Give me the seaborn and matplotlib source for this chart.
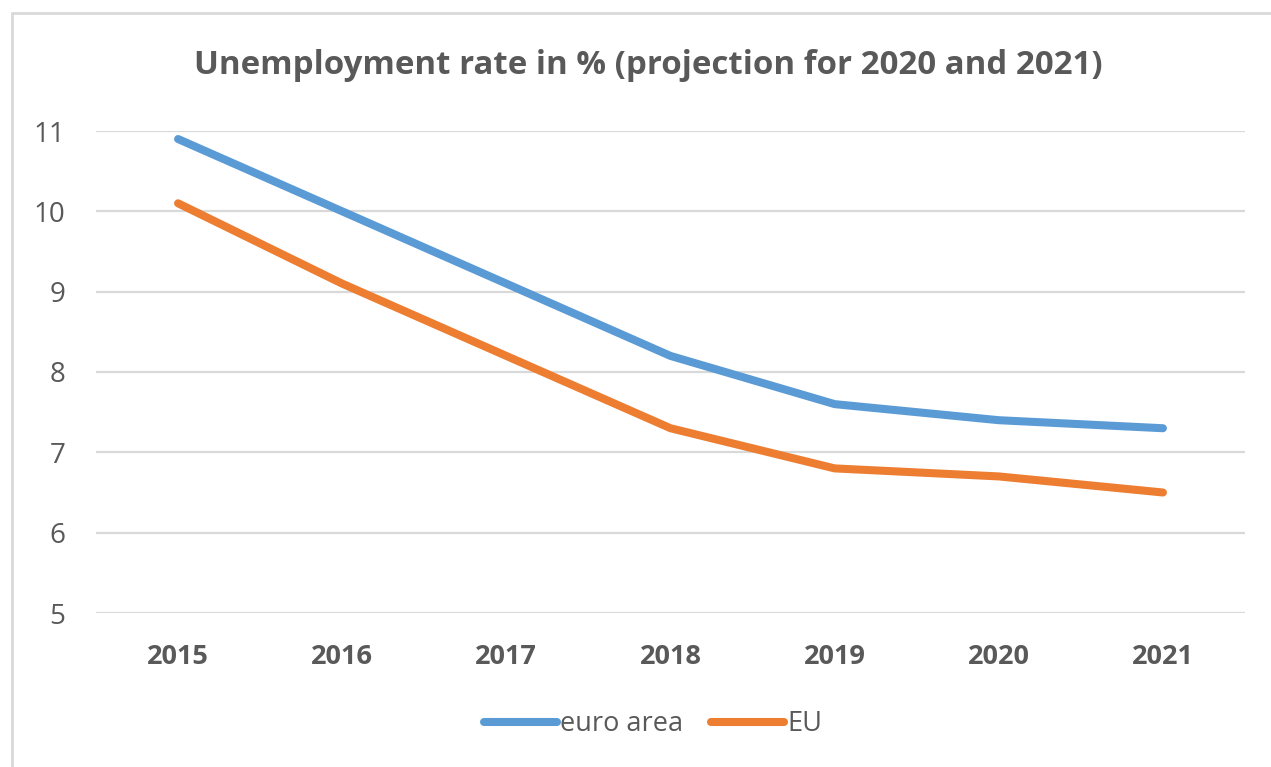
import matplotlib
matplotlib.use("Agg")
import matplotlib.pyplot as plt
from matplotlib.lines import Line2D
import seaborn as sns
import pandas as pd

# Unemployment rate in %, 2020 and 2021 are projections
years = ["2015", "2016", "2017", "2018", "2019", "2020", "2021"]
euro_area = [10.9, 10.0, 9.1, 8.2, 7.6, 7.4, 7.3]
eu = [10.1, 9.1, 8.2, 7.3, 6.8, 6.7, 6.5]
series_names = ["euro area", "EU"]
y_ticks = [5, 6, 7, 8, 9, 10, 11]

df = pd.DataFrame({
    "year": years * 2,
    "rate": euro_area + eu,
    "series": [series_names[0]] * len(years) + [series_names[1]] * len(years),
})

sns.set_theme(style="white")
plt.rcParams["font.family"] = ["Open Sans", "DejaVu Sans"]

text_color = "#595959"
grid_color = "#D9D9D9"
palette = {"euro area": "#5B9BD5", "EU": "#ED7D31"}

fig = plt.figure(figsize=(12.71, 7.67), dpi=100)
ax = fig.add_axes([96 / 1271, 1 - 613 / 767, (1245 - 96) / 1271, (613 - 131) / 767])

sns.lineplot(data=df, x="year", y="rate", hue="series", palette=palette,
             linewidth=5.8, sort=False, ax=ax, legend=False,
             solid_capstyle="round")

ax.set_xlim(-0.5, len(years) - 0.5)
ax.set_ylim(5, 11)
ax.set_yticks(y_ticks)
ax.set_yticklabels([str(t) for t in y_ticks])
for t in y_ticks:
    ax.axhline(t, color=grid_color, linewidth=1.6, zorder=0)
ax.set_xlabel("")
ax.set_ylabel("")
for s in ax.spines.values():
    s.set_visible(False)
ax.tick_params(axis="y", length=0, pad=22, labelsize=20, labelcolor=text_color)
ax.tick_params(axis="x", length=0, pad=22, labelsize=19.5, labelcolor=text_color)
for lbl in ax.get_xticklabels():
    lbl.set_fontweight("bold")

fig.text(648 / 1271, 1 - 65 / 767, "Unemployment rate in % (projection for 2020 and 2021)",
         ha="center", va="center", fontsize=23.8, fontweight="bold", color=text_color)

handles = [Line2D([0], [0], color=palette[n], linewidth=5.8, solid_capstyle="round")
           for n in series_names]
fig.legend(handles, series_names, loc="center", bbox_to_anchor=(653 / 1271, 1 - 724 / 767),
           ncol=2, frameon=False, fontsize=19.5, handlelength=2.7, handletextpad=0.1,
           columnspacing=1.05, labelcolor=text_color)

# light frame around the chart area
fig.add_artist(Line2D([12 / 1271, 1], [1 - 13 / 767, 1 - 13 / 767],
                      transform=fig.transFigure, color=grid_color, linewidth=2))
fig.add_artist(Line2D([12 / 1271, 12 / 1271], [0, 1 - 13 / 767],
                      transform=fig.transFigure, color=grid_color, linewidth=2))

fig.savefig("out.png", dpi=100)
